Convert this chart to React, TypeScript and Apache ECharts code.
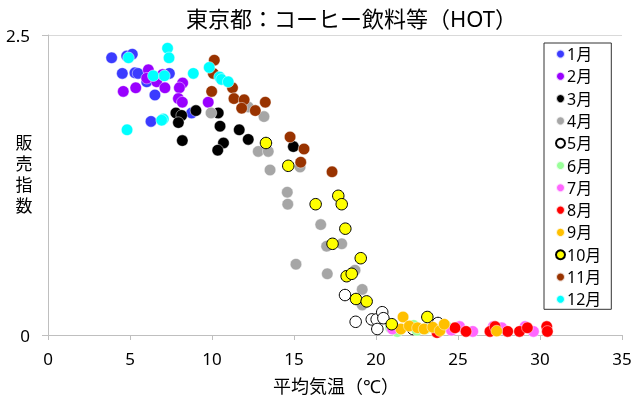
import React, { useEffect, useRef } from "react";
import * as echarts from "echarts";

const months = ["1月", "2月", "3月", "4月", "5月", "6月", "7月", "8月", "9月", "10月", "11月", "12月"];
const monthColors = ["#3b3bff", "#9900ff", "#000000", "#a6a6a6", "#ffffff", "#99ff99", "#ff66ff", "#ff0000", "#ffc000", "#ffff00", "#993300", "#00ffff"];
const xTicks = [0, 5, 10, 15, 20, 25, 30, 35];
const yTicks = [0, 2.5];
const yNameChars = ["販", "売", "指", "数"];

const jan = [[3.88, 2.31], [4.8, 2.325], [5.14, 2.34], [4.53, 2.18], [5.3, 2.185], [5.49, 2.18], [6.02, 2.11], [6.52, 2.0], [6.28, 1.78], [7.4, 2.18], [8.76, 1.85]];
const feb = [[4.59, 2.03], [5.35, 2.06], [6.12, 2.21], [6.02, 2.14], [6.63, 2.11], [7.13, 2.06], [6.99, 2.17], [8.21, 2.1], [8.01, 2.06], [7.95, 1.97], [8.19, 1.94], [9.77, 1.94]];
const mar = [[7.8, 1.85], [8.15, 1.83], [9.02, 1.87], [10.38, 1.85], [7.95, 1.77], [10.49, 1.74], [11.66, 1.71], [12.21, 1.63], [8.19, 1.62], [10.7, 1.6], [10.35, 1.54], [14.96, 1.57]];
const apr = [[9.94, 1.85], [12.21, 1.9], [13.17, 1.82], [12.82, 1.53], [13.43, 1.53], [13.54, 1.375], [15.37, 1.4], [14.59, 1.19], [14.62, 1.09], [16.63, 0.92], [16.99, 0.74], [17.91, 0.76], [15.12, 0.59], [17.03, 0.51], [18.72, 0.54], [19.16, 0.38], [19.16, 0.25]];
const may = [[18.11, 0.333], [18.76, 0.11], [19.74, 0.13], [20.04, 0.13], [20.38, 0.19], [20.45, 0.14], [20.08, 0.05], [22.26, 0.05], [23.78, 0.1]];
const jun = [[20.9, 0.06], [22.3, 0.08], [22.5, 0.04], [24.3, 0.07], [21.3, 0.03], [23.0, 0.05]];
const jul = [[21.0, 0.05], [24.6, 0.04], [25.1, 0.07], [25.9, 0.03], [27.15, 0.07], [27.67, 0.06], [29.09, 0.07], [29.6, 0.03]];
const aug = [[24.82, 0.06], [25.49, 0.03], [26.95, 0.03], [27.26, 0.07], [28.03, 0.03], [28.75, 0.03], [29.23, 0.06], [30.41, 0.07], [30.45, 0.03], [23.72, 0.02]];
const sep = [[21.65, 0.15], [21.52, 0.05], [22.03, 0.075], [22.53, 0.06], [22.93, 0.05], [23.46, 0.065], [23.9, 0.036], [24.16, 0.09], [27.36, 0.033]];
const oct = [[13.29, 1.6], [14.65, 1.41], [16.32, 1.09], [17.7, 1.16], [17.91, 1.09], [18.13, 0.886], [17.35, 0.76], [19.07, 0.64], [18.21, 0.49], [18.52, 0.51], [18.78, 0.3], [19.43, 0.28], [20.96, 0.09], [23.13, 0.15]];
const nov = [[10.14, 2.29], [10.08, 2.18], [9.98, 2.03], [11.25, 2.06], [11.34, 1.97], [11.96, 1.96], [11.81, 1.89], [12.64, 1.87], [13.25, 1.94], [14.76, 1.65], [15.61, 1.55], [15.41, 1.44], [17.32, 1.36]];
const dec = [[7.29, 2.39], [7.38, 2.31], [4.91, 2.31], [6.42, 2.16], [7.1, 2.16], [8.86, 2.18], [9.83, 2.23], [10.46, 2.15], [10.58, 2.13], [10.99, 2.11], [7.03, 1.8], [6.93, 1.79], [4.82, 1.71]];

const monthData = [jan, feb, mar, apr, may, jun, jul, aug, sep, oct, nov, dec];

const FONT = "'Noto Sans', 'Noto Sans CJK JP', sans-serif";

export default function App() {
  const ref = useRef<HTMLDivElement>(null);
  useEffect(() => {
    if (!ref.current) return;
    const chart = echarts.init(ref.current, undefined, { renderer: "svg" });
    const outlined = new Set([4, 9]);
    const series = months.map((m, i) => ({
      name: m,
      type: "scatter",
      data: monthData[i],
      symbol: "circle",
      symbolSize: 11.5,
      itemStyle: {
        color: monthColors[i],
        borderColor: outlined.has(i) ? "#000000" : "rgba(255,255,255,0.8)",
        borderWidth: outlined.has(i) ? 1 : 0.6,
        opacity: 1,
      },
      emphasis: { disabled: true },
    }));
    const yNameY = [142, 163, 184, 205];
    chart.setOption({
      animation: false,
      textStyle: { fontFamily: FONT },
      title: {
        text: "東京都：コーヒー飲料等（HOT）",
        left: 181,
        top: 2,
        textStyle: { fontSize: 22, fontWeight: "normal", color: "#000", fontFamily: FONT },
      },
      grid: { left: 48, right: 18, top: 35, bottom: 65, containLabel: false },
      legend: {
        orient: "vertical",
        left: 544,
        top: 43,
        padding: [3, 10, 2, 11],
        itemGap: 6.3,
        itemWidth: 9,
        itemHeight: 9,
        borderColor: "#333",
        borderWidth: 1,
        icon: "circle",
        textStyle: { fontSize: 16, lineHeight: 16, color: "#000", fontFamily: FONT, padding: [0, 0, 0, -3] },
        data: months,
      },
      xAxis: {
        type: "value",
        min: xTicks[0],
        max: xTicks[xTicks.length - 1],
        interval: xTicks[1] - xTicks[0],
        axisLine: { lineStyle: { color: "#bfbfbf", width: 1 } },
        axisTick: { show: true, length: 5, lineStyle: { color: "#bfbfbf" } },
        axisLabel: { fontSize: 17, color: "#000", margin: 15, fontFamily: FONT },
        splitLine: { show: false },
      },
      yAxis: {
        type: "value",
        min: yTicks[0],
        max: yTicks[yTicks.length - 1],
        interval: yTicks[1] - yTicks[0],
        axisLine: { show: true, lineStyle: { color: "#bfbfbf", width: 1 } },
        axisTick: { show: true, length: 6, lineStyle: { color: "#bfbfbf" } },
        axisLabel: { fontSize: 17, color: "#000", margin: 18, fontFamily: FONT },
        splitLine: { show: true, lineStyle: { color: "#d9d9d9", width: 1 } },
      },
      graphic: [
        ...yNameChars.map((c, i) => ({
          type: "text",
          x: 24,
          y: yNameY[i],
          style: {
            text: c,
            fontSize: 17,
            lineHeight: 18,
            fill: "#000",
            fontFamily: FONT,
            textAlign: "center",
            textVerticalAlign: "middle",
          },
        })),
        {
          type: "text",
          x: 336,
          y: 386,
          style: {
            text: "平均気温（℃）",
            fontSize: 18,
            fill: "#000",
            fontFamily: FONT,
            textAlign: "center",
            textVerticalAlign: "middle",
          },
        },
      ],
      series,
    });
    return () => chart.dispose();
  }, []);
  return <div ref={ref} style={{ position: "fixed", left: 0, top: 0, width: 640, height: 400 }} />;
}
